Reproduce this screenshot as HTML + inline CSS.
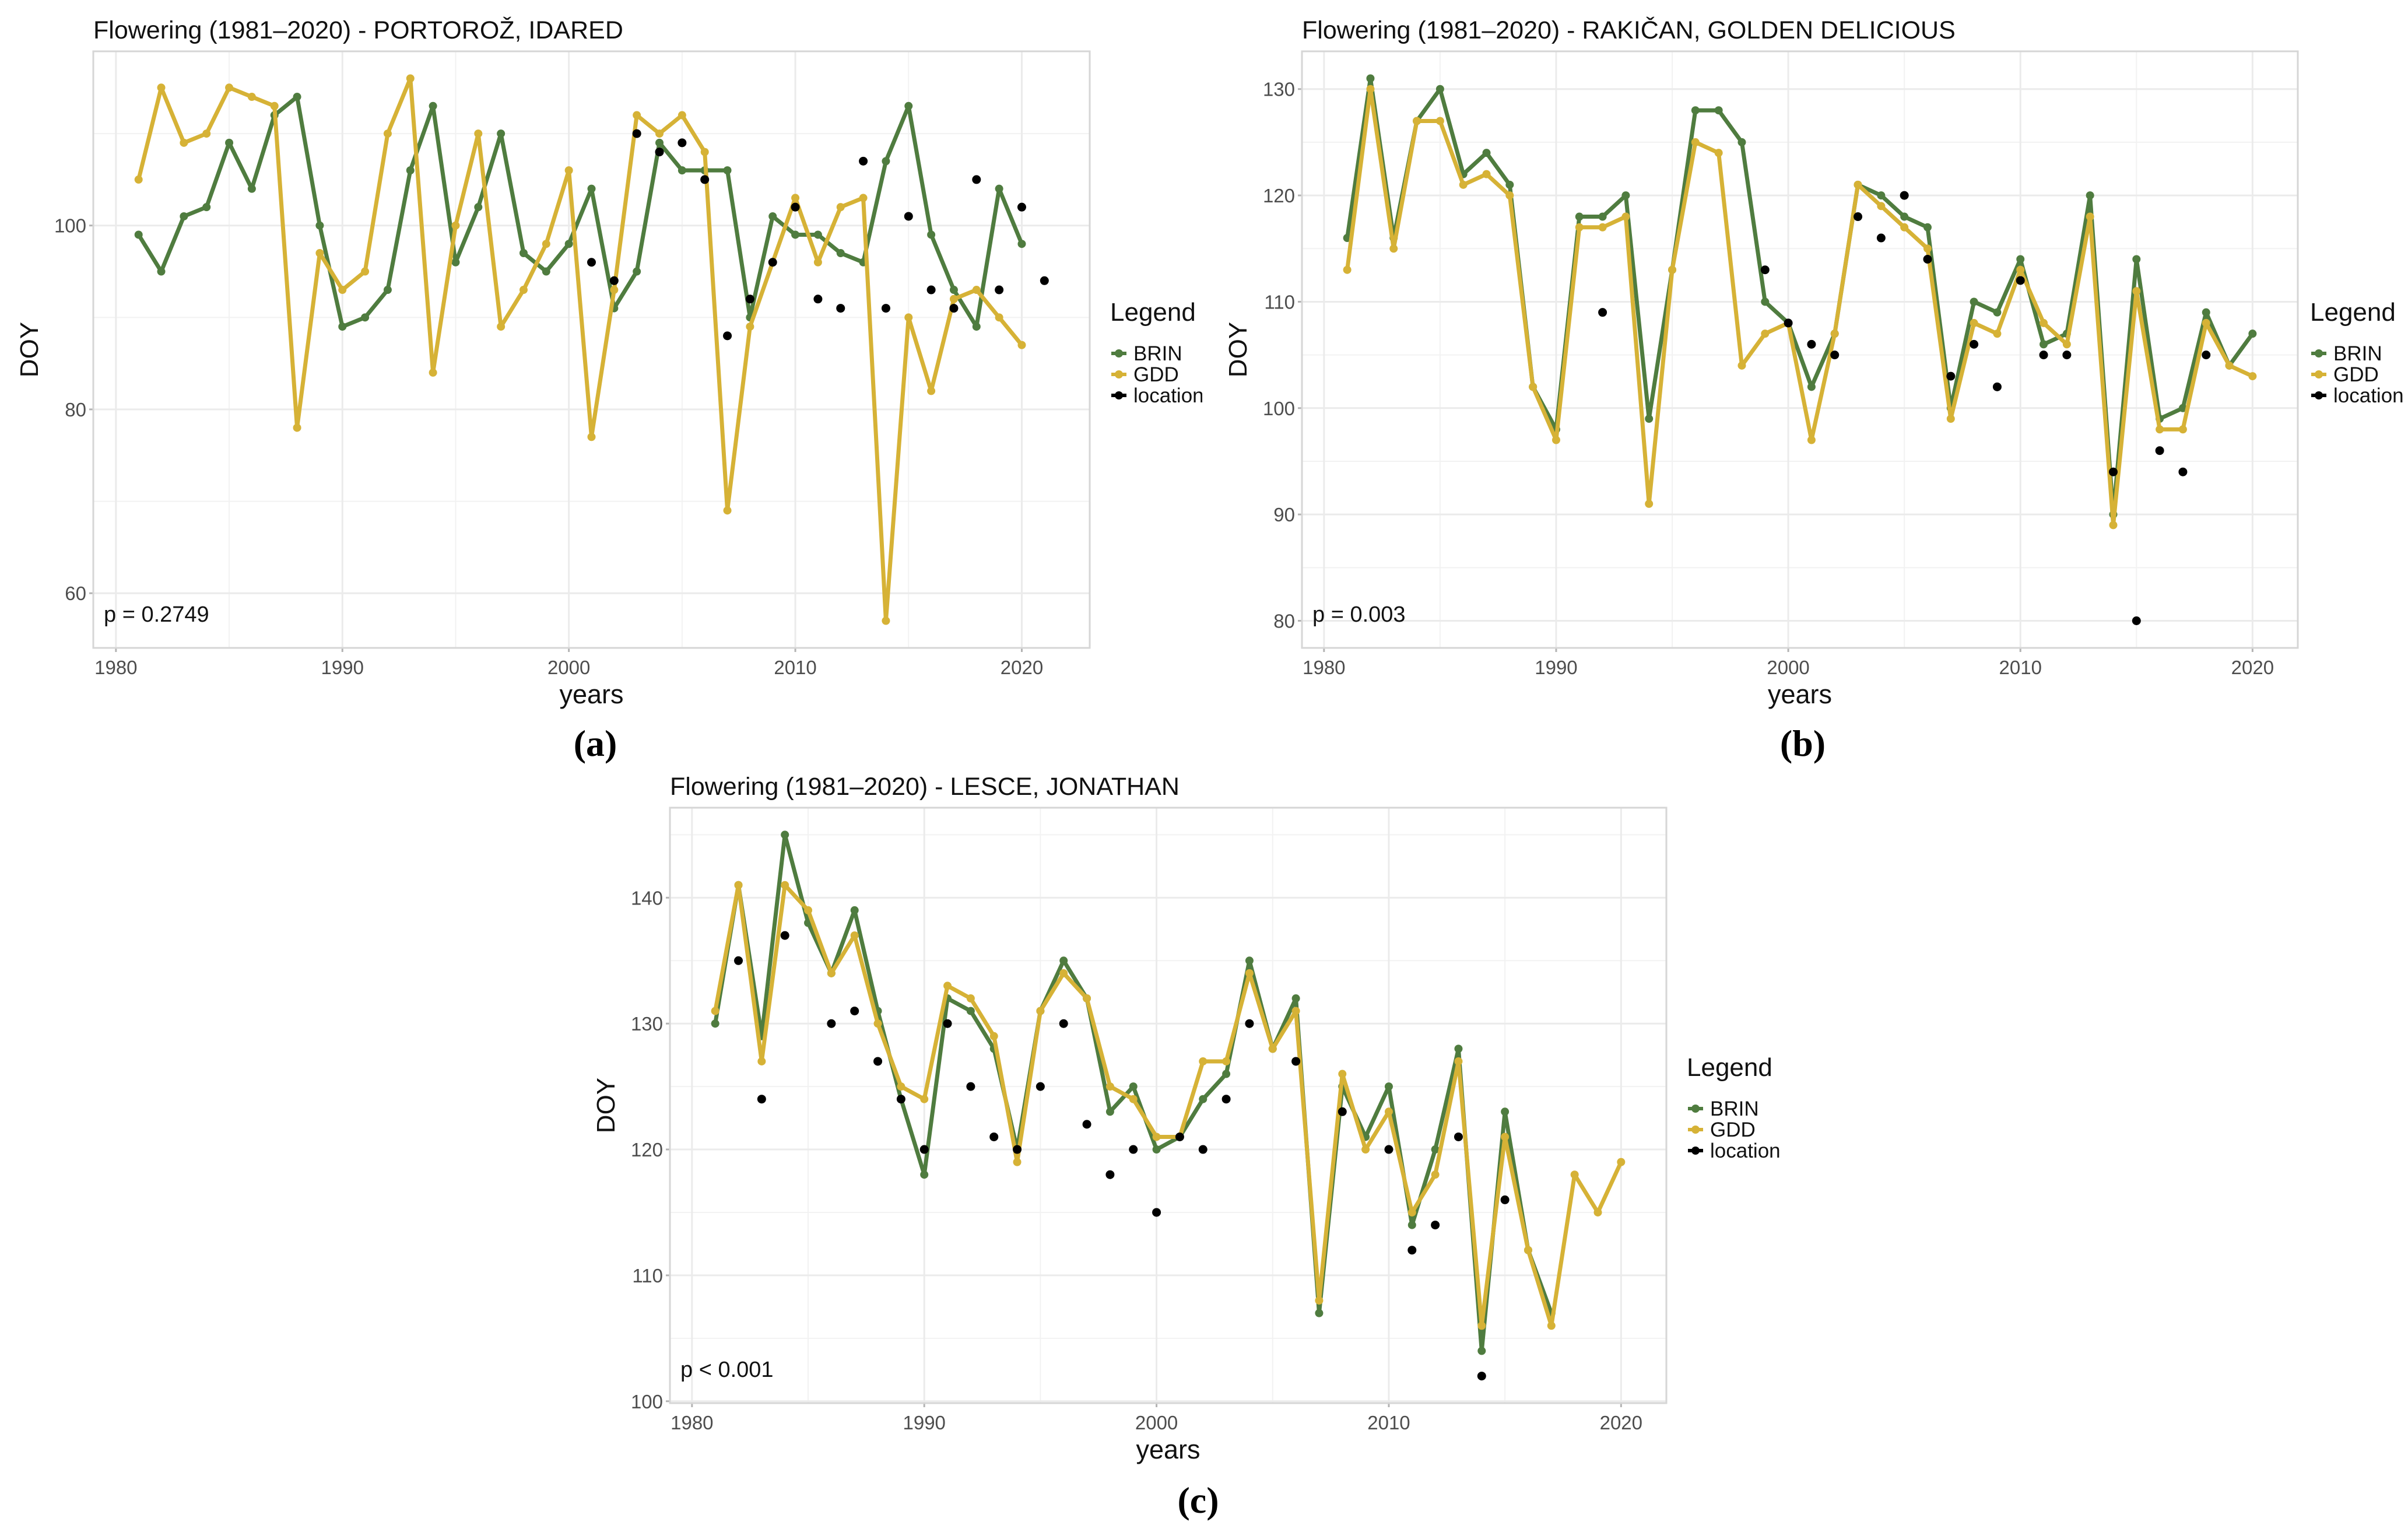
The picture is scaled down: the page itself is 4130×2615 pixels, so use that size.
<!DOCTYPE html>
<html><head><meta charset="utf-8"><style>
html,body{margin:0;padding:0;background:#fff;}
svg{display:block;font-family:"Liberation Sans",sans-serif;}
</style></head><body>
<svg id="fig" width="4130" height="2615" viewBox="0 0 4130 2615" xmlns="http://www.w3.org/2000/svg">
<defs><clipPath id="clipA"><rect x="0" y="0" width="2062" height="1230"/></clipPath></defs>
</svg>
<script>
const years = [1981,1982,1983,1984,1985,1986,1987,1988,1989,1990,1991,1992,1993,1994,1995,1996,1997,1998,1999,2000,2001,2002,2003,2004,2005,2006,2007,2008,2009,2010,2011,2012,2013,2014,2015,2016,2017,2018,2019,2020];
const brinA = [99,95,101,102,109,104,112,114,100,89,90,93,106,113,96,102,110,97,95,98,104,91,95,109,106,106,106,90,101,99,99,97,96,107,113,99,93,89,104,98];
const gddA = [105,115,109,110,115,114,113,78,97,93,95,110,116,84,100,110,89,93,98,106,77,93,112,110,112,108,69,89,96,103,96,102,103,57,90,82,92,93,90,87];
const locYearsA = [2001,2002,2003,2004,2005,2006,2007,2008,2009,2010,2011,2012,2013,2014,2015,2016,2017,2018,2019,2020,2021];
const locA = [96,94,110,108,109,105,88,92,96,102,92,91,107,91,101,93,91,105,93,102,94];
const brinB = [116,131,116,127,130,122,124,121,102,98,118,118,120,99,113,128,128,125,110,108,102,107,121,120,118,117,100,110,109,114,106,107,120,90,114,99,100,109,104,107];
const gddB = [113,130,115,127,127,121,122,120,102,97,117,117,118,91,113,125,124,104,107,108,97,107,121,119,117,115,99,108,107,113,108,106,118,89,111,98,98,108,104,103];
const locYearsB = [1992,1999,2000,2001,2002,2003,2004,2005,2006,2007,2008,2009,2010,2011,2012,2014,2015,2016,2017,2018];
const locB = [109,113,108,106,105,118,116,120,114,103,106,102,112,105,105,94,80,96,94,105];
const brinYearsC = [1981,1982,1983,1984,1985,1986,1987,1988,1989,1990,1991,1992,1993,1994,1995,1996,1997,1998,1999,2000,2001,2002,2003,2004,2005,2006,2007,2008,2009,2010,2011,2012,2013,2014,2015,2016,2017];
const brinC = [130,141,129,145,138,134,139,131,124,118,132,131,128,120,131,135,132,123,125,120,121,124,126,135,128,132,107,125,121,125,114,120,128,104,123,112,107];
const gddC = [131,141,127,141,139,134,137,130,125,124,133,132,129,119,131,134,132,125,124,121,121,127,127,134,128,131,108,126,120,123,115,118,127,106,121,112,106,118,115,119];
const locYearsC = [1982,1983,1984,1986,1987,1988,1989,1990,1991,1992,1993,1994,1995,1996,1997,1998,1999,2000,2001,2002,2003,2004,2006,2008,2010,2011,2012,2013,2014,2015];
const locC = [135,124,137,130,131,127,124,120,130,125,121,120,125,130,122,118,120,115,121,120,124,130,127,123,120,112,114,121,102,116];
const xTicks = [1980,1990,2000,2010,2020];
const yTicksA = [60,80,100];
const yTicksB = [80,90,100,110,120,130];
const yTicksC = [100,110,120,130,140];

const NS="http://www.w3.org/2000/svg";
const svg=document.getElementById('fig');
const GREEN="#4f7c3f", GOLD="#d6b236";
function mk(tag,attrs,parent){const e=document.createElementNS(NS,tag);for(const k in attrs)e.setAttribute(k,attrs[k]);(parent||svg).appendChild(e);return e;}
function txt(s,attrs,parent){const e=mk('text',attrs,parent);e.textContent=s;return e;}

function panel(cfg){
  const g=mk('g',{});
  
  
  if(cfg.clip) g.setAttribute('clip-path',cfg.clip);
  const L=cfg.x0,R=cfg.x1,T=cfg.y0,B=cfg.y1;
  const X=v=>L+(v-cfg.xmin)/(cfg.xmax-cfg.xmin)*(R-L);
  const Y=v=>B-(v-cfg.ymin)/(cfg.ymax-cfg.ymin)*(B-T);
  const t=txt(cfg.title,{x:L,y:T-22,'font-size':43,fill:'#111'},g);
  
  
  for(let v=1975;v<=2025;v+=10){if(v>cfg.xmin&&v<cfg.xmax)mk('line',{x1:X(v),x2:X(v),y1:T,y2:B,stroke:'#f2f2f2','stroke-width':2},g);}
  const st=cfg.yt[1]-cfg.yt[0];
  for(let v=cfg.yt[0]-st/2;v<=cfg.yt[cfg.yt.length-1]+st;v+=st){if(v>cfg.ymin&&v<cfg.ymax)mk('line',{x1:L,x2:R,y1:Y(v),y2:Y(v),stroke:'#f2f2f2','stroke-width':2},g);}
  xTicks.forEach(v=>{mk('line',{x1:X(v),x2:X(v),y1:T,y2:B,stroke:'#ebebeb','stroke-width':3},g);
    const l=txt(v,{x:X(v),y:B+45,'font-size':33,fill:'#4d4d4d','text-anchor':'middle'},g);
    
    
    mk('line',{x1:X(v),x2:X(v),y1:B,y2:B+7,stroke:'#b3b3b3','stroke-width':3},g);});
  cfg.yt.forEach(v=>{mk('line',{x1:L,x2:R,y1:Y(v),y2:Y(v),stroke:'#ebebeb','stroke-width':3},g);
    const l=txt(v,{x:L-12,y:Y(v)+12,'font-size':33,fill:'#4d4d4d','text-anchor':'end'},g);
    
    
    mk('line',{x1:L-7,x2:L,y1:Y(v),y2:Y(v),stroke:'#b3b3b3','stroke-width':3},g);});
  const bx=mk('rect',{x:L,y:T,width:R-L,height:B-T,fill:'none',stroke:'#d6d6d6','stroke-width':3},g);
  
  
  const xt=txt('years',{x:(L+R)/2,y:B+95,'font-size':45,fill:'#111','text-anchor':'middle'},g);
  
  
  const yx=L-95, yy=(T+B)/2;
  const yt=txt('DOY',{x:yx,y:yy,'font-size':44,fill:'#111','text-anchor':'middle',transform:`rotate(-90 ${yx} ${yy})`},g);
  
  
  function series(xs,ys,col,name){
    const p=mk('polyline',{points:xs.map((x,i)=>X(x)+','+Y(ys[i])).join(' '),fill:'none',stroke:col,'stroke-width':7,'stroke-linejoin':'round'},g);
    
    
    xs.forEach((x,i)=>{const c=mk('circle',{cx:X(x),cy:Y(ys[i]),r:7,fill:col},g);
      
      });
  }
  series(cfg.bx,cfg.brin,GREEN,'brin');
  series(years,cfg.gdd,GOLD,'gdd');
  cfg.lx.forEach((x,i)=>{const c=mk('circle',{cx:X(x),cy:Y(cfg.loc[i]),r:7.5,fill:'#000'},g);
    
    });
  const pl=txt(cfg.p,{x:L+18,y:B-45,'font-size':38,fill:'#111'},g);
  
  
  const lg=mk('g',{},g);
  
  
  const lx=cfg.lgx, ly=cfg.lgy;
  txt('Legend',{x:lx,y:ly,'font-size':44,fill:'#111'},lg);
  [['BRIN',GREEN],['GDD',GOLD],['location','#000']].forEach((e,i)=>{
    const yy=ly+56+i*36;
    const en=mk('g',{},lg);
    
    
    mk('line',{x1:lx+2,x2:lx+28,y1:yy,y2:yy,stroke:e[1],'stroke-width':6},en);
    mk('circle',{cx:lx+15,cy:yy,r:7,fill:e[1]},en);
    txt(e[0],{x:lx+40,y:yy+12,'font-size':35,fill:'#111'},en);
  });
}
panel({name:'chart-a',title:'Flowering (1981–2020) - PORTOROŽ, IDARED',x0:160,x1:1869,y0:88,y1:1111,xmin:1979,xmax:2023,ymin:54.05,ymax:118.95,yt:yTicksA,bx:years,brin:brinA,gdd:gddA,lx:locYearsA,loc:locA,p:'p = 0.2749',lgx:1904,lgy:550,clip:'url(#clipA)'});
panel({name:'chart-b',title:'Flowering (1981–2020) - RAKIČAN, GOLDEN DELICIOUS',x0:2233,x1:3941,y0:88,y1:1111,xmin:1979.05,xmax:2021.95,ymin:77.45,ymax:133.55,yt:yTicksB,bx:years,brin:brinB,gdd:gddB,lx:locYearsB,loc:locB,p:'p = 0.003',lgx:3962,lgy:550});
panel({name:'chart-c',title:'Flowering (1981–2020) - LESCE, JONATHAN',x0:1149,x1:2858,y0:1385,y1:2406,xmin:1979.05,xmax:2021.95,ymin:99.85,ymax:147.15,yt:yTicksC,bx:brinYearsC,brin:brinC,gdd:gddC,lx:locYearsC,loc:locC,p:'p < 0.001',lgx:2893,lgy:1845});
[['(a)',1021,1296],['(b)',3092,1296],['(c)',2055,2594]].forEach(s=>{
  const t=txt(s[0],{x:s[1],y:s[2],'font-size':64,'font-family':'Liberation Serif, serif','font-weight':'bold',fill:'#000','text-anchor':'middle'});
  
  
});
</script>
</body></html>
